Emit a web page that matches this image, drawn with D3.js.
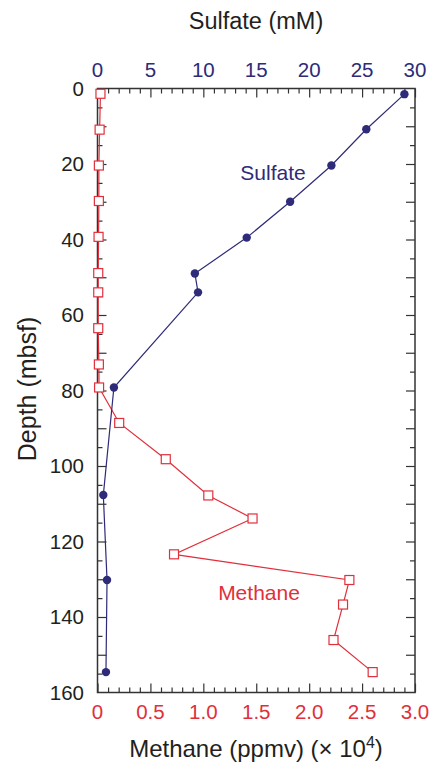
<!DOCTYPE html>
<html>
<head>
<meta charset="utf-8">
<script src="https://cdn.jsdelivr.net/npm/d3@7/dist/d3.min.js"></script>
<style>
  html, body { margin: 0; padding: 0; background: #fff; }
  svg { display: block; font-family: "Liberation Sans", Arial, Helvetica, sans-serif; }
</style>
</head>
<body>
<svg id="chart" width="431" height="765"></svg>
<script>
// ---- Data ----
const sulfateDepth = [1.5, 10.8, 20.4, 30.0, 39.5, 49.0, 54.0, 79.2, 107.7, 130.2, 154.6];
const sulfateValue = [29.0, 25.4, 22.1, 18.2, 14.1, 9.2, 9.5, 1.55, 0.55, 0.9, 0.8];

const methaneDepth = [1.4, 10.9, 20.4, 29.8, 39.3, 48.9, 54.0, 63.5, 73.1, 79.2, 88.6, 98.2, 107.8, 113.9, 123.4, 130.2, 136.7, 146.1, 154.6];
const methaneValue = [0.028, 0.02, 0.013, 0.013, 0.01, 0.007, 0.007, 0.007, 0.013, 0.015, 0.205, 0.645, 1.047, 1.465, 0.723, 2.38, 2.32, 2.23, 2.60];

const depthTicks = [0, 20, 40, 60, 80, 100, 120, 140, 160];
const sulfateTicks = [0, 5, 10, 15, 20, 25, 30];
const methaneTicks = [0, 0.5, 1.0, 1.5, 2.0, 2.5, 3.0];
const methaneTickLabels = ["0", "0.5", "1.0", "1.5", "2.0", "2.5", "3.0"];

(function () {
// ---- Layout ----
const navy = "#2e2b78";
const red = "#e0303c";
const ink = "#231f20";
const pLeft = 97.5, pRight = 415, pTop = 88.5, pBottom = 692.5;

const svg = d3.select("#chart");

const y = d3.scaleLinear().domain([0, 160]).range([pTop, pBottom]);
const xS = d3.scaleLinear().domain([0, 30]).range([pLeft, pRight]);
const xM = d3.scaleLinear().domain([0, 3]).range([pLeft, pRight]);

const axisColor = "#333";
function styleAxis(g) {
  g.select(".domain").remove();
  g.selectAll("line").attr("stroke", axisColor).attr("stroke-width", 1.2);
  g.selectAll("text").remove();
}

// Top: sulfate, minor every 1, major every 5
svg.append("g").attr("transform", `translate(0,${pTop})`)
  .call(d3.axisBottom(xS).tickValues(d3.range(0, 31, 1).filter(v => v % 5 !== 0)).tickSize(5)).call(styleAxis);
svg.append("g").attr("transform", `translate(0,${pTop})`)
  .call(d3.axisBottom(xS).tickValues(sulfateTicks).tickSize(9)).call(styleAxis);
// Bottom: methane, minor every 0.1, major every 0.5
svg.append("g").attr("transform", `translate(0,${pBottom})`)
  .call(d3.axisTop(xM).tickValues(d3.range(1, 30).filter(v => v % 5 !== 0).map(v => v / 10)).tickSize(5)).call(styleAxis);
svg.append("g").attr("transform", `translate(0,${pBottom})`)
  .call(d3.axisTop(xM).tickValues(methaneTicks).tickSize(9)).call(styleAxis);
// Left/right: minor every 5, major every 10
const depthMinor = d3.range(5, 160, 10);
const depthMajor = d3.range(10, 160, 10);
svg.append("g").attr("transform", `translate(${pLeft},0)`)
  .call(d3.axisRight(y).tickValues(depthMinor).tickSize(5)).call(styleAxis);
svg.append("g").attr("transform", `translate(${pLeft},0)`)
  .call(d3.axisRight(y).tickValues(depthMajor).tickSize(9)).call(styleAxis);
svg.append("g").attr("transform", `translate(${pRight},0)`)
  .call(d3.axisLeft(y).tickValues(depthMinor).tickSize(5)).call(styleAxis);
svg.append("g").attr("transform", `translate(${pRight},0)`)
  .call(d3.axisLeft(y).tickValues(depthMajor).tickSize(9)).call(styleAxis);

// Frame
svg.append("rect").attr("x", pLeft).attr("y", pTop).attr("width", pRight - pLeft).attr("height", pBottom - pTop)
  .attr("fill", "none").attr("stroke", axisColor).attr("stroke-width", 1.5);

// Tick labels
svg.append("g").selectAll("text").data(depthTicks).join("text")
  .attr("x", 84).attr("y", d => y(d)).attr("dy", "0.36em").attr("text-anchor", "end")
  .attr("font-size", 20.5).attr("fill", ink).text(d => d);
svg.append("g").selectAll("text").data(sulfateTicks).join("text")
  .attr("x", d => xS(d)).attr("y", 70).attr("dy", "0.36em").attr("text-anchor", "middle")
  .attr("font-size", 20.5).attr("fill", navy).text(d => d);
svg.append("g").selectAll("text").data(methaneTicks).join("text")
  .attr("x", d => xM(d)).attr("y", 712).attr("dy", "0.36em").attr("text-anchor", "middle")
  .attr("font-size", 20.5).attr("fill", red).text((d, i) => methaneTickLabels[i]);

// Axis titles
svg.append("text").attr("x", 256).attr("y", 21).attr("dy", "0.36em").attr("text-anchor", "middle")
  .attr("font-size", 23.5).attr("fill", ink).text("Sulfate (mM)");
svg.append("text").attr("transform", "translate(27,389) rotate(-90)").attr("dy", "0.36em").attr("text-anchor", "middle")
  .attr("font-size", 25).attr("fill", ink).text("Depth (mbsf)");
const bt = svg.append("text").attr("x", 256).attr("y", 748).attr("dy", "0.36em").attr("text-anchor", "middle")
  .attr("font-size", 24).attr("fill", ink);
bt.append("tspan").text("Methane (ppmv) (\u00d7 10");
bt.append("tspan").attr("font-size", 16).attr("dy", "-0.55em").text("4");
bt.append("tspan").attr("dy", "0.35em").text(")");

// Methane series
const methane = methaneDepth.map((d, i) => ({ d, v: methaneValue[i] }));
svg.append("path").datum(methane)
  .attr("d", d3.line().x(p => xM(p.v)).y(p => y(p.d)))
  .attr("fill", "none").attr("stroke", red).attr("stroke-width", 1.2);
svg.append("g").selectAll("rect").data(methane).join("rect")
  .attr("x", p => xM(p.v) - 4.5).attr("y", p => y(p.d) - 4.5).attr("width", 9).attr("height", 9)
  .attr("fill", "#fff").attr("stroke", red).attr("stroke-width", 1.2);

// Sulfate series
const sulfate = sulfateDepth.map((d, i) => ({ d, v: sulfateValue[i] }));
svg.append("path").datum(sulfate)
  .attr("d", d3.line().x(p => xS(p.v)).y(p => y(p.d)))
  .attr("fill", "none").attr("stroke", navy).attr("stroke-width", 1.2);
svg.append("g").selectAll("circle").data(sulfate).join("circle")
  .attr("cx", p => xS(p.v)).attr("cy", p => y(p.d)).attr("r", 4.2).attr("fill", navy);

// In-plot labels
svg.append("text").attr("x", 273).attr("y", 172).attr("dy", "0.36em").attr("text-anchor", "middle")
  .attr("font-size", 21).attr("fill", navy).text("Sulfate");
svg.append("text").attr("x", 259).attr("y", 592).attr("dy", "0.36em").attr("text-anchor", "middle")
  .attr("font-size", 21).attr("fill", red).text("Methane");
})();
</script>
</body>
</html>
